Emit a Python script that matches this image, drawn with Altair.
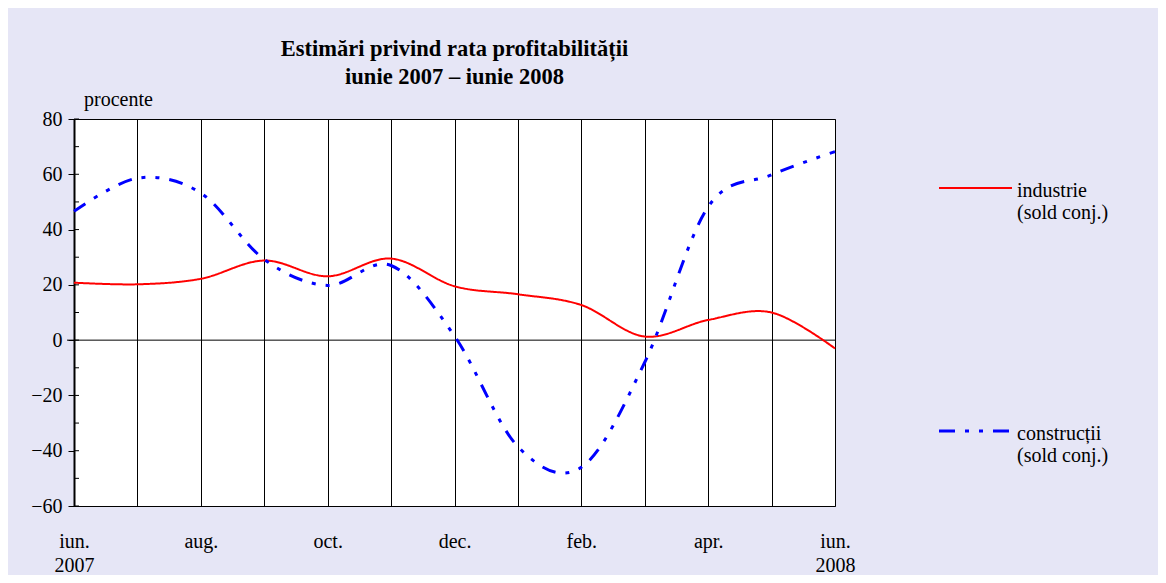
import json
import altair as alt
import pandas as pd

# ---- data ----
month_idx = list(range(13))
x_labels = ["iun.\n2007", "", "aug.", "", "oct.", "", "dec.", "", "feb.", "", "apr.", "", "iun.\n2008"]
industrie = [20.8, 20.2, 22.2, 28.8, 23.1, 29.5, 19.5, 16.6, 12.7, 1.3, 7.3, 10.0, -3.0]
constructii = [46.6, 58.6, 53.2, 29.2, 19.8, 27.0, 1.5, -38.5, -46.0, -8.0, 48.2, 59.8, 68.2]
series_names = ["industrie", "construcții"]
legend_line1 = ["industrie", "construcții"]
legend_line2 = ["(sold conj.)", "(sold conj.)"]
y_major = [-60, -40, -20, 0, 20, 40, 60, 80]
y_minor = [-50, -30, -10, 10, 30, 50, 70]
title_lines = ["Estimări privind rata profitabilității", "iunie 2007 – iunie 2008"]
y_unit = "procente"

FONT = "Liberation Serif"
RED = "#ff0000"
BLUE = "#0000ff"

rows = []
for i, m in enumerate(month_idx):
    rows.append({"m": m, "v": industrie[i], "s": series_names[0]})
    rows.append({"m": m, "v": constructii[i], "s": series_names[1]})
df = pd.DataFrame(rows)

label_arr = [l.split("\n") if "\n" in l else l for l in x_labels]
label_expr = json.dumps(label_arr, ensure_ascii=False) + "[datum.value]"

xscale = alt.Scale(domain=[0, 12], nice=False, zero=False)
yscale = alt.Scale(domain=[-60, 80], nice=False, zero=False)

xaxis = alt.Axis(values=month_idx, grid=True, gridColor="#000000", gridOpacity=1, gridWidth=1,
                 ticks=False, domain=False, labelExpr=label_expr, labelFont=FONT, labelFontSize=20,
                 labelColor="#000000", labelPadding=25, labelLineHeight=24, labelBaseline="top",
                 labelAngle=0, title=None, labelFlush=False, labelOverlap=False)
yaxis = alt.Axis(values=y_major, grid=False, ticks=True, tickSize=6, tickColor="#000000",
                 domain=True, domainColor="#000000", domainWidth=2, labelFont=FONT, labelFontSize=20,
                 labelColor="#000000", labelPadding=6, title=None)

lines = alt.Chart(df).mark_line(interpolate="cardinal", clip=False).encode(
    x=alt.X("m:Q", scale=xscale, axis=xaxis),
    y=alt.Y("v:Q", scale=yscale, axis=yaxis),
    color=alt.Color("s:N", scale=alt.Scale(domain=series_names, range=[RED, BLUE]), legend=None),
    strokeDash=alt.StrokeDash("s:N", scale=alt.Scale(domain=series_names, range=[[1, 0], [14, 10, 4, 10, 4, 10]]), legend=None),
    strokeWidth=alt.StrokeWidth("s:N", scale=alt.Scale(domain=series_names, range=[2, 3]), legend=None),
)

zero = alt.Chart(pd.DataFrame({"y": [0]})).mark_rule(color="#000000", strokeWidth=1).encode(
    y=alt.Y("y:Q", scale=yscale), x=alt.value(-7), x2=alt.value(761)
)

ticks_in = alt.Chart(pd.DataFrame({"y": y_major + y_minor})).mark_rule(color="#000000", strokeWidth=1).encode(
    y=alt.Y("y:Q", scale=yscale), x=alt.value(0), x2=alt.value(5)
)

unit_txt = alt.Chart(pd.DataFrame({"t": [y_unit]})).mark_text(
    font=FONT, fontSize=20, align="left", baseline="alphabetic", color="#000000"
).encode(text="t:N", x=alt.value(10), y=alt.value(-13))

leg_df = pd.DataFrame({"s": series_names, "l1": legend_line1, "l2": legend_line2})

leg_red = alt.Chart(leg_df.iloc[[0]]).mark_rule(color=RED, strokeWidth=2).encode(
    x=alt.value(865), x2=alt.value(938), y=alt.value(69))
leg_blue = alt.Chart(leg_df.iloc[[1]]).mark_rule(color=BLUE, strokeWidth=3, strokeDash=[16, 10, 4, 10, 4, 10]).encode(
    x=alt.value(865), x2=alt.value(937), y=alt.value(312))

def leg_text(idx, col, y):
    return alt.Chart(leg_df.iloc[[idx]]).mark_text(
        font=FONT, fontSize=20, align="left", baseline="alphabetic", color="#000000"
    ).encode(text=f"{col}:N", x=alt.value(943), y=alt.value(y))

chart = alt.layer(
    zero, ticks_in, lines, unit_txt, leg_red, leg_blue,
    leg_text(0, "l1", 78), leg_text(0, "l2", 100),
    leg_text(1, "l1", 321), leg_text(1, "l2", 343),
).properties(
    width=761, height=387,
    title=alt.Title(text=title_lines, font=FONT, fontSize=22.5, fontWeight="bold", color="#000000",
                    anchor="middle", lineHeight=28, offset=2),
    autosize=alt.AutoSizeParams(type="none"),
    padding={"left": 66, "top": 111, "right": 323, "bottom": 69},
).configure(background="#e6e6f6").configure_view(fill="#ffffff", stroke="#000000", strokeWidth=1)

chart.save("out.html", embed_options={"renderer": "svg", "actions": False})
